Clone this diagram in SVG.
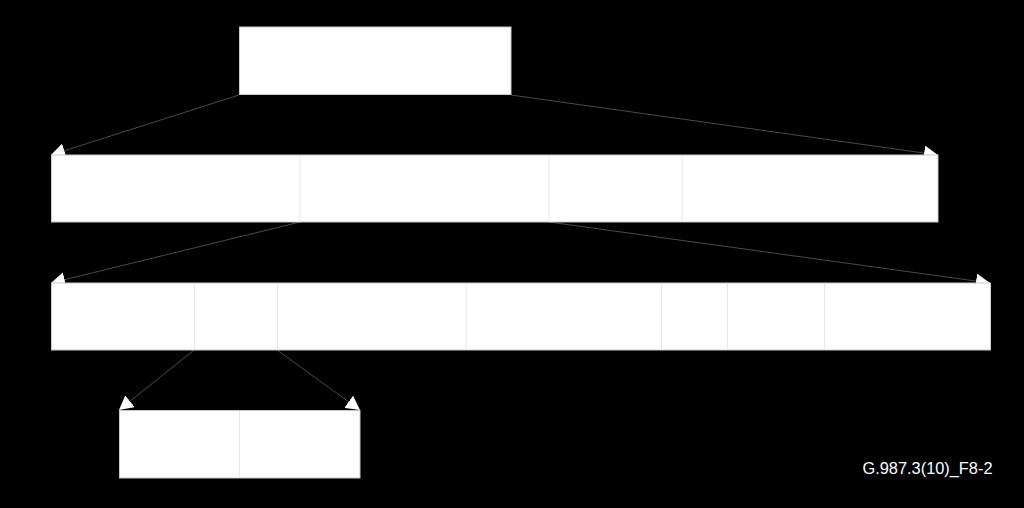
<svg xmlns="http://www.w3.org/2000/svg" width="1024" height="508" viewBox="0 0 1024 508">
  <defs>
    <style>
      .box { fill: #ffffff; stroke: #c8c8c8; stroke-width: 1; }
      .div { stroke: #e6e6e6; stroke-width: 1; }
      .conn { stroke: #4a4a4a; stroke-width: 1; fill: none; marker-end: url(#arr); }
      .label { font-family: "Liberation Sans", Arial, sans-serif; font-size: 16px; fill: #ffffff; }
    </style>
    <marker id="arr" markerUnits="userSpaceOnUse" markerWidth="14" markerHeight="15" refX="14" refY="7.5" orient="auto">
      <path d="M0,0 L14,7.5 L0,15 z" fill="#ffffff"/>
    </marker>
  </defs>
  <rect x="0" y="0" width="1024" height="508" fill="#000000"/>

  <g id="connectors">
    <line class="conn" x1="239" y1="95" x2="51" y2="155"/>
    <line class="conn" x1="511" y1="95" x2="938" y2="155"/>
    <line class="conn" x1="300" y1="222" x2="51" y2="283"/>
    <line class="conn" x1="549" y1="222" x2="990" y2="283"/>
    <line class="conn" x1="194" y1="350" x2="119" y2="410"/>
    <line class="conn" x1="277" y1="350" x2="360" y2="410"/>
  </g>

  <g id="node-top">
    <rect class="box" x="239.5" y="27" width="271.5" height="67.5"/>
  </g>

  <g id="node-row2">
    <rect class="box" x="51.5" y="155" width="886.5" height="67"/>
    <line class="div" x1="300" y1="155.5" x2="300" y2="221.5"/>
    <line class="div" x1="549" y1="155.5" x2="549" y2="221.5"/>
    <line class="div" x1="682" y1="155.5" x2="682" y2="221.5"/>
  </g>

  <g id="node-row3">
    <rect class="box" x="51.5" y="283" width="939" height="67"/>
    <line class="div" x1="194.5" y1="283.5" x2="194.5" y2="349.5"/>
    <line class="div" x1="277.5" y1="283.5" x2="277.5" y2="349.5"/>
    <line class="div" x1="466" y1="283.5" x2="466" y2="349.5"/>
    <line class="div" x1="661.5" y1="283.5" x2="661.5" y2="349.5"/>
    <line class="div" x1="727.5" y1="283.5" x2="727.5" y2="349.5"/>
    <line class="div" x1="824.5" y1="283.5" x2="824.5" y2="349.5"/>
  </g>

  <g id="node-row4">
    <rect class="box" x="119.5" y="410.5" width="240.5" height="67.5"/>
    <line class="div" x1="239.5" y1="411" x2="239.5" y2="477.5"/>
  </g>

  <g id="caption">
    <text class="label" x="862.5" y="474" textLength="130" lengthAdjust="spacingAndGlyphs">G.987.3(10)_F8-2</text>
  </g>
</svg>
